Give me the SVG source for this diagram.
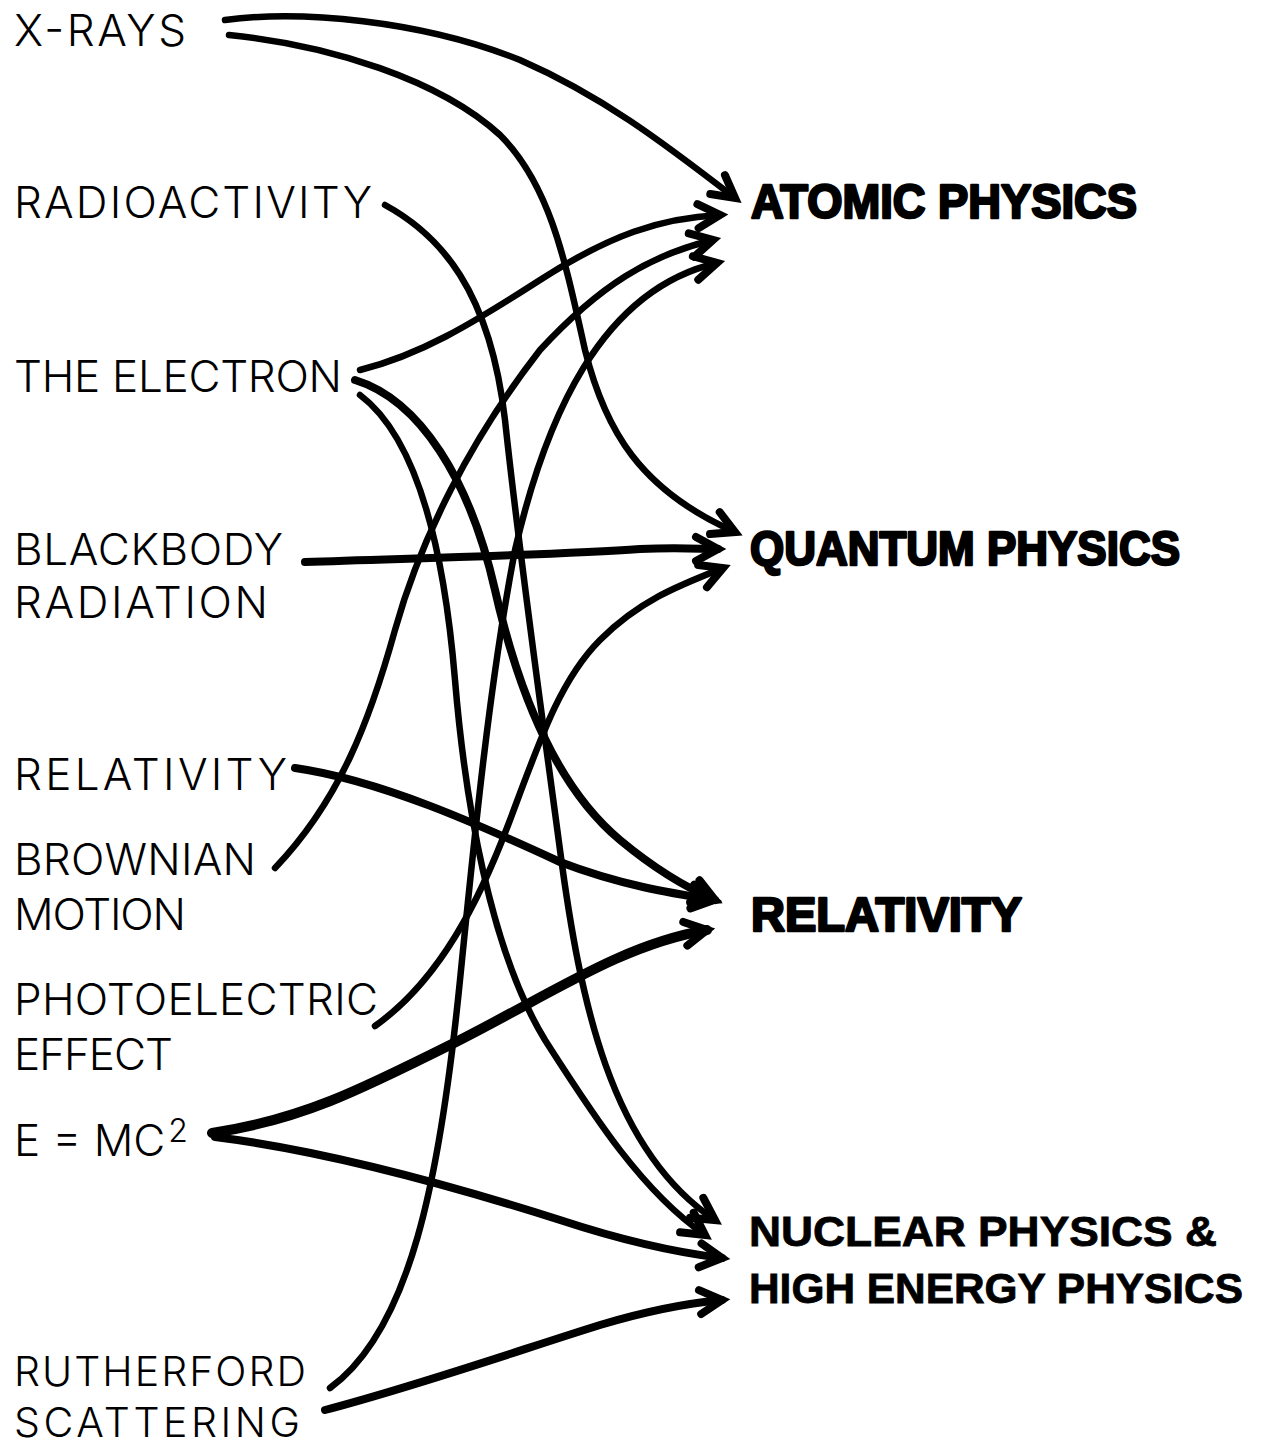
<svg xmlns="http://www.w3.org/2000/svg" width="1272" height="1448" viewBox="0 0 1272 1448">
<style>
.lbl{font-family:Inter,"Liberation Sans","DejaVu Sans",sans-serif;font-size:44px;font-weight:300;fill:#000}
.sm{font-size:41px}
.hd{font-family:"Liberation Sans","DejaVu Sans",sans-serif;font-size:48px;font-weight:bold;fill:#000;stroke:#000;stroke-width:2.5;stroke-linejoin:round}
.hd2{font-family:"Liberation Sans","DejaVu Sans",sans-serif;font-size:43px;font-weight:bold;fill:#000;stroke:#000;stroke-width:0.8}
.c{fill:none;stroke:#000;stroke-width:6.5;stroke-linecap:round;stroke-linejoin:round;marker-end:url(#ah)}
.t{stroke-width:8}
.tt{stroke-width:10}
</style>
<defs>
<marker id="ah" markerUnits="userSpaceOnUse" viewBox="-28 -18 34 36" refX="0" refY="0" markerWidth="34" markerHeight="36" orient="auto" overflow="visible">
<path d="M-22,-12 L0,0 L-22,12" fill="none" stroke="#000" stroke-width="8" stroke-linecap="round" stroke-linejoin="miter"/>
</marker>
</defs>
<rect width="1272" height="1448" fill="#fff"/>

<g id="connectors">
<path class="c" d="M225,20 C300,10 420,20 520,60 C600,95 660,140 735,198"/>
<path class="c" d="M229,35 C330,45 440,80 500,135 C550,185 565,260 585,350 C605,430 640,490 735,532"/>
<path class="c" d="M385,205 C440,235 490,290 505,420 C520,560 540,700 560,850 C580,1000 610,1150 715,1220"/>
<path class="c" d="M360,370 C420,355 470,325 540,280 C610,235 660,218 720,215"/>
<path class="c t" d="M355,380 C420,400 470,480 495,590 C520,700 560,790 620,840 C650,865 680,885 715,900"/>
<path class="c" d="M360,395 C420,440 445,560 455,680 C465,800 490,950 545,1040 C590,1110 640,1190 705,1235"/>
<path class="c t" d="M305,562 C420,558 560,555 640,549 C680,547 700,549 718,549"/>
<path class="c t" d="M295,768 C380,780 480,825 560,862 C620,885 670,893 714,900"/>
<path class="c" d="M275,868 C340,800 370,720 395,630 C420,540 470,440 540,350 C600,285 650,255 713,240"/>
<path class="c" d="M375,1026 C440,980 480,900 510,820 C540,740 560,680 600,640 C640,600 680,585 723,568"/>
<path class="c tt" d="M212,1133 C300,1120 360,1090 450,1045 C550,995 620,945 707,930"/>
<path class="c t" d="M215,1137 C320,1150 450,1185 560,1220 C630,1243 680,1253 722,1258"/>
<path class="c" d="M330,1388 C410,1330 440,1180 460,980 C475,830 490,680 515,550 C545,420 600,290 717,263"/>
<path class="c t" d="M325,1410 C420,1385 520,1350 600,1325 C650,1310 690,1303 722,1300"/>
</g>

<g id="n-xrays"><text class="lbl" x="14" y="46" textLength="172" lengthAdjust="spacing">X-RAYS</text></g>
<g id="n-radioactivity"><text class="lbl" x="14" y="218" textLength="358" lengthAdjust="spacing">RADIOACTIVITY</text></g>
<g id="n-electron"><text class="lbl" x="14" y="392" textLength="328" lengthAdjust="spacing">THE ELECTRON</text></g>
<g id="n-blackbody">
<text class="lbl" x="14" y="565" textLength="269" lengthAdjust="spacing">BLACKBODY</text>
<text class="lbl" x="14" y="618" textLength="254" lengthAdjust="spacing">RADIATION</text>
</g>
<g id="n-relativity-l"><text class="lbl" x="14" y="790" textLength="273" lengthAdjust="spacing">RELATIVITY</text></g>
<g id="n-brownian">
<text class="lbl" x="14" y="875" textLength="242" lengthAdjust="spacing">BROWNIAN</text>
<text class="lbl" x="14" y="930" textLength="172" lengthAdjust="spacing">MOTION</text>
</g>
<g id="n-photoelectric">
<text class="lbl" x="14" y="1015" textLength="364" lengthAdjust="spacing">PHOTOELECTRIC</text>
<text class="lbl" x="14" y="1070" textLength="159" lengthAdjust="spacing">EFFECT</text>
</g>
<g id="n-emc2"><text class="lbl" x="14" y="1156">E = MC<tspan font-size="32" dx="3" dy="-14">2</tspan></text></g>
<g id="n-rutherford">
<text class="lbl sm" x="14" y="1386" textLength="292" lengthAdjust="spacing">RUTHERFORD</text>
<text class="lbl sm" x="14" y="1437" textLength="286" lengthAdjust="spacing">SCATTERING</text>
</g>

<g id="n-atomic"><text class="hd" x="751" y="218" textLength="386" lengthAdjust="spacingAndGlyphs">ATOMIC PHYSICS</text></g>
<g id="n-quantum"><text class="hd" x="750" y="565" textLength="430" lengthAdjust="spacingAndGlyphs">QUANTUM PHYSICS</text></g>
<g id="n-relativity-r"><text class="hd" x="751" y="931" textLength="271" lengthAdjust="spacingAndGlyphs">RELATIVITY</text></g>
<g id="n-nuclear">
<text class="hd2" x="749" y="1246" textLength="468" lengthAdjust="spacingAndGlyphs">NUCLEAR PHYSICS &amp;</text>
<text class="hd2" x="749" y="1303" textLength="494" lengthAdjust="spacingAndGlyphs">HIGH ENERGY PHYSICS</text>
</g>
</svg>
